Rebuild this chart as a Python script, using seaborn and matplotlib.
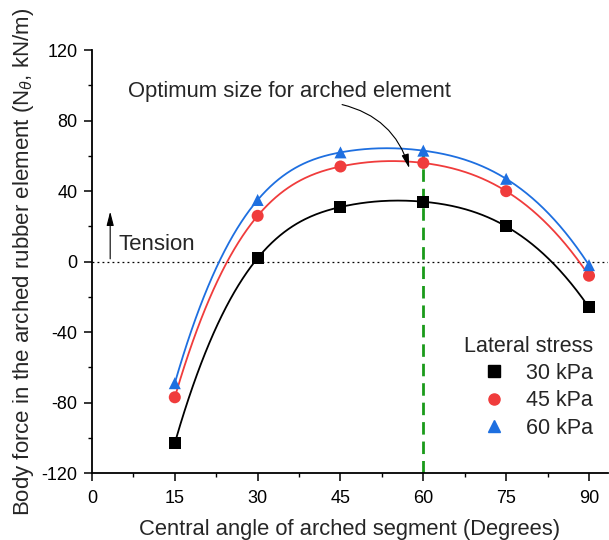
import numpy as np
import pandas as pd
import matplotlib
matplotlib.use("Agg")
import matplotlib.pyplot as plt
import seaborn as sns
from matplotlib.lines import Line2D
from matplotlib.ticker import MultipleLocator

# Central angle of the arched segment (degrees)
angles = [15, 30, 45, 60, 75, 90]
# Body force N_theta (kN/m) for each lateral stress
force_30 = [-103, 2, 31, 34, 20, -26]
force_45 = [-77, 26, 54, 56, 40, -8]
force_60 = [-69, 35, 62, 63, 47, -2]
series_labels = ["30 kPa", "45 kPa", "60 kPa"]
colors = ["#000000", "#F03C3C", "#1E6FE0"]
markers = ["s", "o", "^"]

sns.set_theme(style="ticks")
plt.rcParams["font.family"] = ["Liberation Sans", "DejaVu Sans"]
plt.rcParams["mathtext.fontset"] = "custom"
plt.rcParams["mathtext.rm"] = "Liberation Sans"
plt.rcParams["mathtext.it"] = "Liberation Sans:italic"
plt.rcParams["axes.unicode_minus"] = False


def spline_curve(x, y, n=300):
    """Not-a-knot cubic spline through (x, y), evaluated on a fine grid."""
    x = np.asarray(x, float)
    y = np.asarray(y, float)
    k = len(x)
    h = np.diff(x)
    A = np.zeros((k, k))
    r = np.zeros(k)
    A[0, 0], A[0, 1], A[0, 2] = h[1], -(h[0] + h[1]), h[0]
    A[-1, -3], A[-1, -2], A[-1, -1] = h[-1], -(h[-2] + h[-1]), h[-2]
    for i in range(1, k - 1):
        A[i, i - 1] = h[i - 1]
        A[i, i] = 2 * (h[i - 1] + h[i])
        A[i, i + 1] = h[i]
        r[i] = 3 * ((y[i + 1] - y[i]) / h[i] - (y[i] - y[i - 1]) / h[i - 1])
    c = np.linalg.solve(A, r)
    b = (y[1:] - y[:-1]) / h - h * (2 * c[:-1] + c[1:]) / 3
    d = (c[1:] - c[:-1]) / (3 * h)
    xs = np.linspace(x[0], x[-1], n)
    idx = np.clip(np.searchsorted(x, xs, side="right") - 1, 0, k - 2)
    dx = xs - x[idx]
    ys = y[idx] + b[idx] * dx + c[idx] * dx ** 2 + d[idx] * dx ** 3
    return xs, ys


df = pd.DataFrame({
    "angle": angles * 3,
    "force": force_30 + force_45 + force_60,
    "stress": [s for s in series_labels for _ in angles],
})

fig = plt.figure(figsize=(6.09, 5.40), dpi=100)
ax = fig.add_axes([0.151, 0.124, 0.847, 0.783])

# reference lines
ax.axhline(0, color="black", lw=0.9, ls=(0, (1.5, 2.5)), zorder=1)
ax.plot([60, 60], [-120, 63.5], color="#1A9A1A", lw=2.0, ls=(0, (4.5, 2.5)), zorder=2)

# smooth curves through each series
for vals, col in zip([force_30, force_45, force_60], colors):
    xs, ys = spline_curve(angles, vals)
    ax.plot(xs, ys, color=col, lw=1.3, zorder=3)

sns.scatterplot(data=df, x="angle", y="force", hue="stress", style="stress",
                palette=dict(zip(series_labels, colors)),
                markers=dict(zip(series_labels, markers)),
                s=75, edgecolor="none", linewidth=0, legend=False, ax=ax, zorder=4)

ax.set_xlim(0, 93.4)
ax.set_ylim(-120, 120)
ax.xaxis.set_major_locator(MultipleLocator(15))
ax.xaxis.set_minor_locator(MultipleLocator(7.5))
ax.yaxis.set_major_locator(MultipleLocator(40))
ax.yaxis.set_minor_locator(MultipleLocator(20))
ax.tick_params(which="major", direction="out", length=5.5, width=1.1, labelsize=13,
               colors="black")
ax.tick_params(axis="x", which="major", pad=7)
ax.tick_params(axis="y", which="major", pad=5)
ax.tick_params(which="minor", direction="out", length=3, width=1.0, colors="black")
for side in ["top", "right"]:
    ax.spines[side].set_visible(False)
for side in ["left", "bottom"]:
    ax.spines[side].set_linewidth(1.3)
    ax.spines[side].set_color("black")

ax.set_xlabel("Central angle of arched segment (Degrees)", fontsize=15.8, labelpad=8)
ax.set_ylabel(r"Body force in the arched rubber element (N$_\theta$, kN/m)",
              fontsize=16, labelpad=4)

# annotations
ax.text(6.6, 96.5, "Optimum size for arched element", fontsize=15.8, va="center", ha="left")
ax.annotate("", xy=(57.6, 51.5), xytext=(44.8, 89.5),
            arrowprops=dict(arrowstyle="-|>,head_length=0.7,head_width=0.18", color="black",
                            lw=0.8, connectionstyle="arc3,rad=-0.3"))
ax.annotate("", xy=(3.3, 30), xytext=(3.3, 0),
            arrowprops=dict(arrowstyle="-|>,head_length=0.7,head_width=0.18", color="black",
                            lw=0.8))
ax.text(4.8, 9.5, "Tension", fontsize=16, va="center", ha="left")

handles = [Line2D([], [], ls="none", marker=m, color=c, markersize=9 if m == "^" else 8)
           for m, c in zip(markers, colors)]
leg = ax.legend(handles, series_labels, title="Lateral stress", loc="lower right",
                bbox_to_anchor=(1.0, 0.045), frameon=False, fontsize=15.5,
                title_fontsize=15.5, handletextpad=0.7, labelspacing=0.3, borderpad=0.2,
                handlelength=1.5)
leg._legend_box.align = "right"

fig.savefig("out.png", dpi=100, facecolor="white")
